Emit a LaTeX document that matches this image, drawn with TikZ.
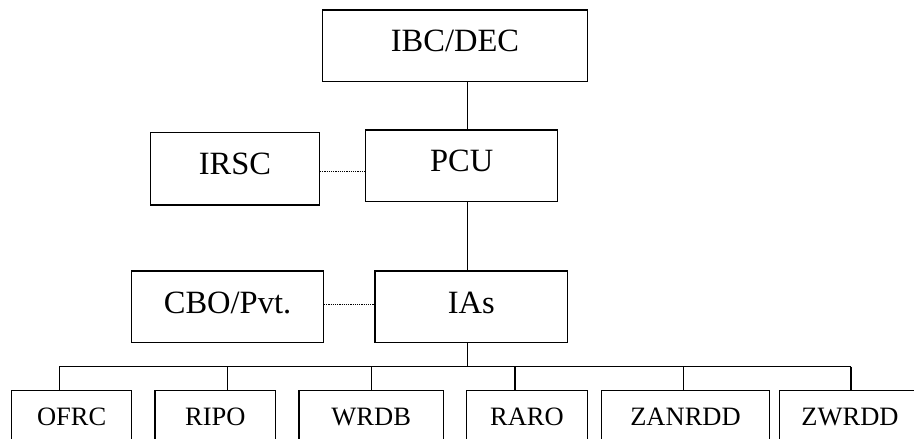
\documentclass[tikz,border=0pt]{standalone}
\usepackage{fontspec}
\setmainfont{Liberation Serif}
\begin{document}
\begin{tikzpicture}[x=1pt,y=-1pt,
  box/.style={draw, line width=1.5pt, rectangle, inner sep=0pt,
    font=\fontsize{32.5}{36}\selectfont, text height=21.5pt, text depth=10pt},
  sbox/.style={draw, line width=1.5pt, rectangle, inner sep=0pt,
    font=\fontsize{26.5}{30}\selectfont, text height=17.5pt, text depth=0pt,
    minimum height=52pt},
  link/.style={line width=1.5pt},
  dotlink/.style={line width=1.2pt, dash pattern=on 1.1pt off 1.1pt}]
\useasboundingbox (0,0) rectangle (914,439);
% top part
\node[box, minimum width=264.6pt, minimum height=71.7pt] (ibc) at (455,45.8) {IBC/DEC};
\node[box, minimum width=192pt, minimum height=71.7pt] (pcu) at (461.7,165.8) {PCU};
\node[box, minimum width=168.6pt, minimum height=72.3pt] (irsc) at (235,168.8) {IRSC};
\node[box, minimum width=191.6pt, minimum height=71.3pt, text depth=7.5pt] (cbo) at (227.5,306.7) {CBO/Pvt.};
\node[box, minimum width=192.7pt, minimum height=71.3pt, text depth=7.5pt] (ias) at (471.3,306.7) {IAs};
% bottom boxes
\node[sbox, minimum width=120pt] (ofrc) at (71.7,416.7) {OFRC};
\node[sbox, minimum width=120.7pt] (ripo) at (215.3,416.7) {RIPO};
\node[sbox, minimum width=144.3pt] (wrdb) at (371.2,416.7) {WRDB};
\node[sbox, minimum width=120.6pt] (raro) at (527,416.7) {RARO};
\node[sbox, minimum width=167.6pt] (zanrdd) at (685.5,416.7) {ZANRDD};
\node[sbox, minimum width=141.4pt] (zwrdd) at (850,416.7) {ZWRDD};
% trunk coordinates
\coordinate (trunk) at (467.5,0);
\coordinate (bus) at (467.5,366.7);
\coordinate (dA) at (0,171.7);
\coordinate (dB) at (0,304.3);
% connectors
\draw[link] (ibc.south -| trunk) -- (pcu.north -| trunk);
\draw[link] (pcu.south -| trunk) -- (ias.north -| trunk);
\draw[link] (ias.south -| trunk) -- (bus);
\draw[dotlink] (irsc.east |- dA) -- (pcu.west |- dA);
\draw[dotlink] (cbo.east |- dB) -- (ias.west |- dB);
\coordinate (s1) at (59.3,366.7);
\coordinate (s2) at (227.5,366.7);
\coordinate (s3) at (371.5,366.7);
\coordinate (s4) at (515,366.7);
\coordinate (s5) at (683.3,366.7);
\coordinate (s6) at (851,366.7);
\draw[link] (s1) -- (s6);
\draw[link] (s1) -- (ofrc.north -| s1);
\draw[link] (s2) -- (ripo.north -| s2);
\draw[link] (s3) -- (wrdb.north -| s3);
\draw[link] (s4) -- (raro.north -| s4);
\draw[link] (s5) -- (zanrdd.north -| s5);
\draw[link] (s6) -- (zwrdd.north -| s6);
\end{tikzpicture}
\end{document}
